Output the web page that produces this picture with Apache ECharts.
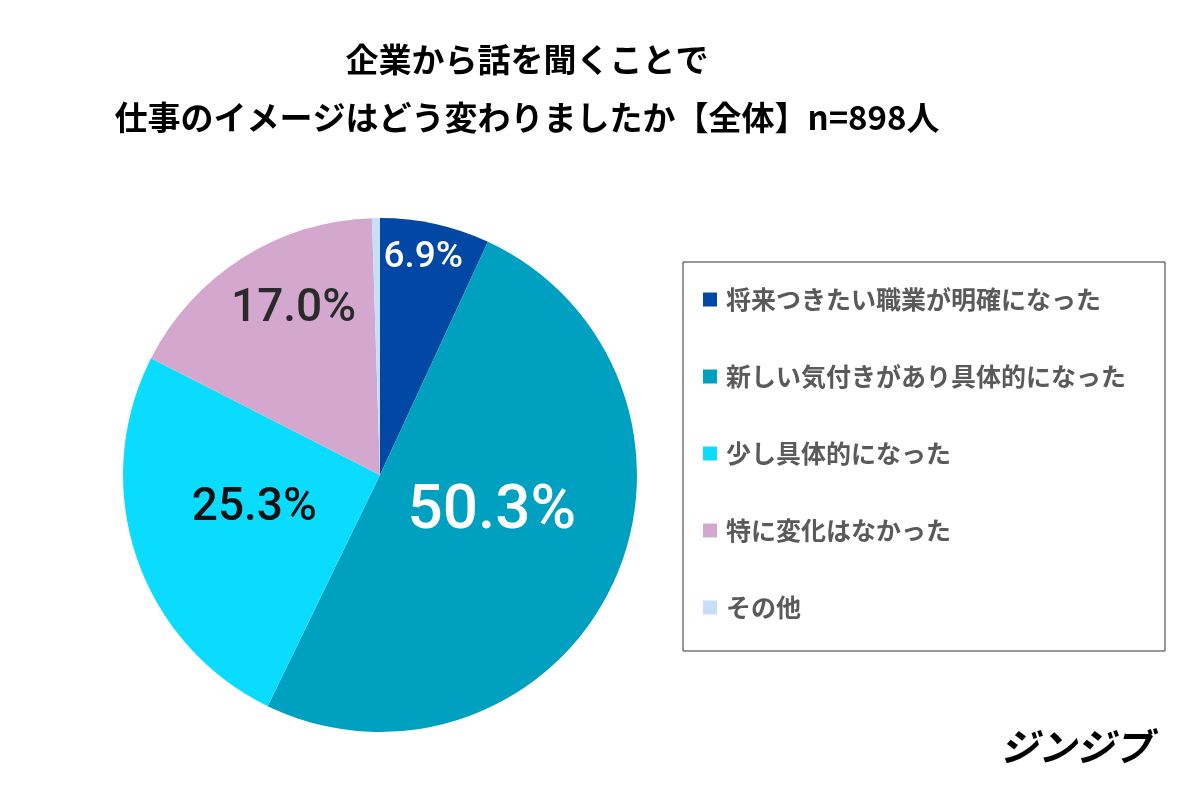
<!DOCTYPE html>
<html>
<head>
<meta charset="utf-8">
<script src="https://cdn.jsdelivr.net/npm/echarts@6/dist/echarts.min.js"></script>
<style>
html,body{margin:0;padding:0;background:#fff;}
#chart{width:1200px;height:800px;}
</style>
</head>
<body>
<div id="chart"></div>
<script>
const titleLines = ['企業から話を聞くことで', '仕事のイメージはどう変わりましたか【全体】n=898人'];
const categories = ['将来つきたい職業が明確になった', '新しい気付きがあり具体的になった', '少し具体的になった', '特に変化はなかった', 'その他'];
const values = [6.9, 50.3, 25.3, 17.0, 0.5];
const showLabel = [true, true, true, true, false];
const colors = ['#0048A4', '#00A0C0', '#0ADCFF', '#D4A8CE', '#C6DEF8'];
const labelColors = ['#ffffff', '#ffffff', '#111111', '#2a2a2a', '#333333'];
const labelSizes = [37, 62, 46, 46, 12];
const labelShift = [[15, -89], [-7, -19], [-1, -8], [-16, -54], [0, 0]];
const logoText = 'ジンジブ';

const chart = echarts.init(document.getElementById('chart'));
chart.setOption({
  backgroundColor: '#ffffff',
  animation: false,
  title: [{
    text: titleLines.join('\n'),
    left: 522,
    top: 25,
    textAlign: 'center',
    textStyle: {
      fontFamily: 'Noto Sans CJK JP',
      fontSize: 33,
      fontWeight: 'bold',
      color: '#000000',
      lineHeight: 58
    }
  }, {
    text: logoText,
    right: 43,
    top: 723,
    textStyle: {
      fontFamily: 'Noto Sans CJK JP',
      fontSize: 38,
      fontWeight: 'bold',
      fontStyle: 'italic',
      color: '#000000'
    }
  }],
  legend: {
    orient: 'vertical',
    left: 683,
    top: 262,
    data: categories,
    icon: 'rect',
    itemWidth: 14,
    itemHeight: 14,
    itemGap: 52,
    borderColor: '#333333',
    borderWidth: 1,
    padding: [25, 39, 31, 20],
    selectedMode: false,
    textStyle: {
      fontFamily: 'Noto Sans CJK JP',
      fontSize: 25,
      lineHeight: 25,
      fontWeight: 'bold',
      color: '#5a5a5a',
      padding: [0, 0, 0, 4]
    }
  },
  series: [{
    type: 'pie',
    center: [380, 475],
    radius: [0, 257],
    startAngle: 90,
    clockwise: true,
    avoidLabelOverlap: false,
    label: {
      position: 'inside',
      fontFamily: 'Roboto',
      fontWeight: 500,
      formatter: p => p.value.toFixed(1) + '%'
    },
    labelLine: { show: false },
    emphasis: { disabled: true },
    labelLayout: function (params) {
      const s = labelShift[params.dataIndex];
      return { dx: s[0], dy: s[1] };
    },
    data: categories.map((name, i) => ({
      name: name,
      value: values[i],
      itemStyle: { color: colors[i] },
      label: {
        show: showLabel[i],
        color: labelColors[i],
        fontSize: labelSizes[i]
      }
    }))
  }]
});
</script>
</body>
</html>
